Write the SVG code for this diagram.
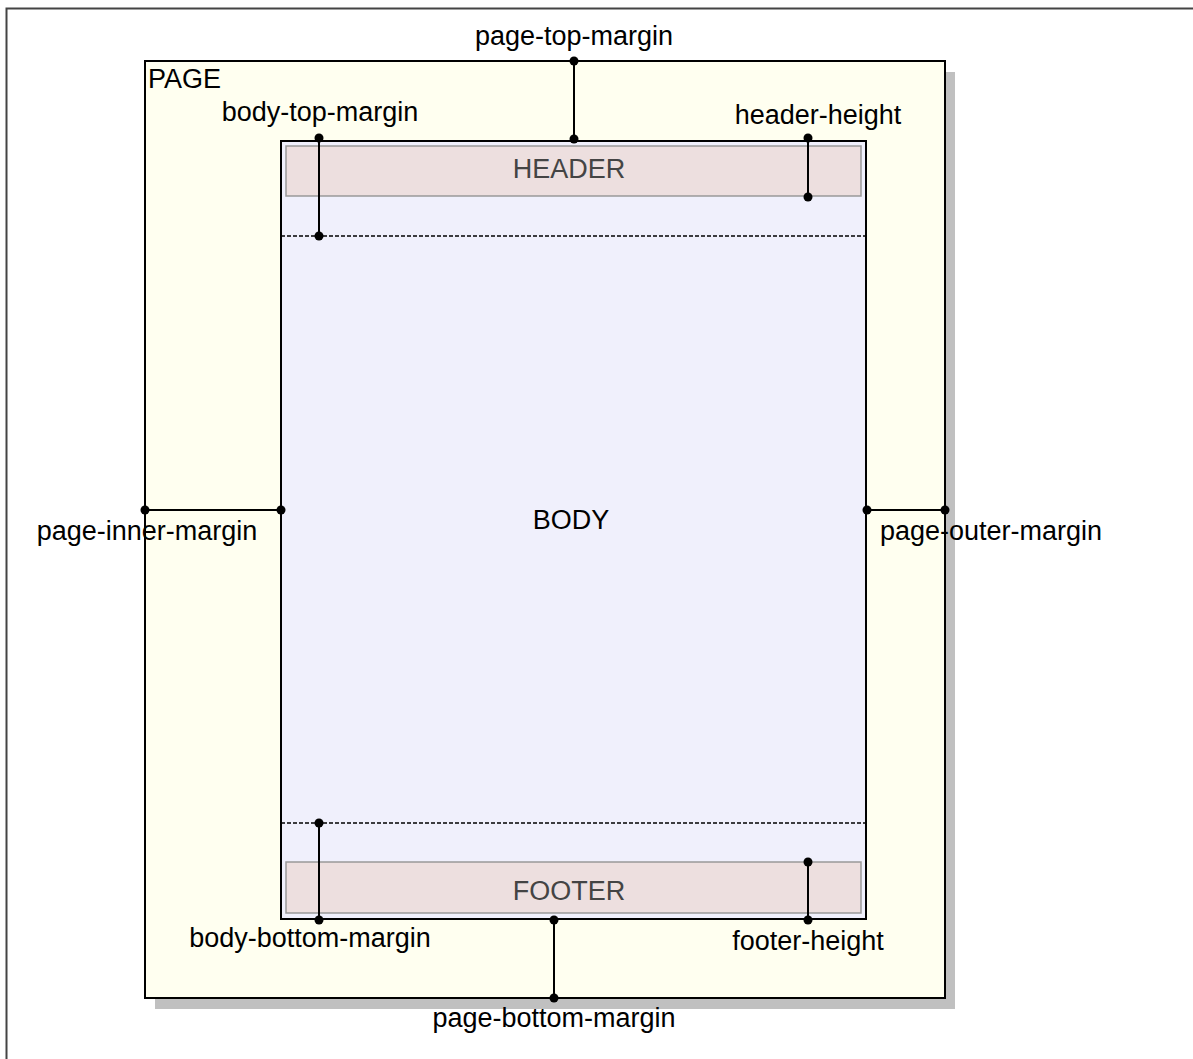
<svg xmlns="http://www.w3.org/2000/svg" width="1193" height="1059" viewBox="0 0 1193 1059">
<style>
text{font-family:"Liberation Sans",Arial,sans-serif;font-size:27px;fill:#000}
.lbl{text-anchor:middle}
.hf{text-anchor:middle;fill:#444}
.dim{stroke:#000;stroke-width:2;fill:none}
.dot{fill:#000}
.dash{stroke:#000;stroke-width:1.5;stroke-dasharray:4,2}
</style>
<rect width="1193" height="1059" fill="#fff"/>
<rect x="6.5" y="8.5" width="1400" height="1200" fill="none" stroke="#444" stroke-width="2"/>
<g id="page">
<rect x="155" y="72" width="800" height="937" fill="#c0c0c0"/>
<rect x="145" y="61" width="800" height="937" fill="#fffff0" stroke="#000" stroke-width="2"/>
<text x="148" y="88">PAGE</text>
</g>
<g id="body">
<rect x="281" y="141" width="585" height="778" fill="#f0f0fc" stroke="#000" stroke-width="2"/>
<line class="dash" x1="281" y1="236" x2="866" y2="236"/>
<line class="dash" x1="281" y1="823" x2="866" y2="823"/>
<text class="lbl" x="571" y="529">BODY</text>
</g>
<g id="header">
<rect x="286" y="146" width="575" height="50" fill="#eddfdf" stroke="#999" stroke-width="1.5"/>
<text class="hf" x="569" y="178">HEADER</text>
</g>
<g id="footer">
<rect x="286" y="862" width="575" height="51" fill="#eddfdf" stroke="#999" stroke-width="1.5"/>
<text class="hf" x="569" y="900">FOOTER</text>
</g>
<g id="connectors">
<line class="dim" x1="574" y1="61" x2="574" y2="139"/>
<circle class="dot" cx="574" cy="61" r="4.5"/><circle class="dot" cx="574" cy="139" r="4.5"/>
<line class="dim" x1="319" y1="138" x2="319" y2="236"/>
<circle class="dot" cx="319" cy="138" r="4.5"/><circle class="dot" cx="319" cy="236" r="4.5"/>
<line class="dim" x1="808" y1="138" x2="808" y2="197"/>
<circle class="dot" cx="808" cy="138" r="4.5"/><circle class="dot" cx="808" cy="197" r="4.5"/>
<line class="dim" x1="145" y1="510" x2="281" y2="510"/>
<circle class="dot" cx="145" cy="510" r="4.5"/><circle class="dot" cx="281" cy="510" r="4.5"/>
<line class="dim" x1="867" y1="510" x2="945" y2="510"/>
<circle class="dot" cx="867" cy="510" r="4.5"/><circle class="dot" cx="945" cy="510" r="4.5"/>
<line class="dim" x1="319" y1="823" x2="319" y2="920"/>
<circle class="dot" cx="319" cy="823" r="4.5"/><circle class="dot" cx="319" cy="920" r="4.5"/>
<line class="dim" x1="808" y1="862" x2="808" y2="920"/>
<circle class="dot" cx="808" cy="862" r="4.5"/><circle class="dot" cx="808" cy="920" r="4.5"/>
<line class="dim" x1="554" y1="920" x2="554" y2="998"/>
<circle class="dot" cx="554" cy="920" r="4.5"/><circle class="dot" cx="554" cy="998" r="4.5"/>
</g>
<g id="labels">
<text class="lbl" x="574" y="45">page-top-margin</text>
<text class="lbl" x="320" y="121">body-top-margin</text>
<text class="lbl" x="818" y="124">header-height</text>
<text class="lbl" x="147" y="540">page-inner-margin</text>
<text class="lbl" x="991" y="540">page-outer-margin</text>
<text class="lbl" x="310" y="947">body-bottom-margin</text>
<text class="lbl" x="808" y="950">footer-height</text>
<text class="lbl" x="554" y="1027">page-bottom-margin</text>
</g>
</svg>
